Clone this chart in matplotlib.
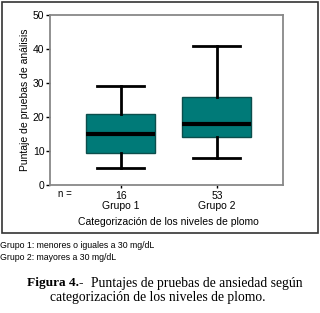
import matplotlib
matplotlib.use("Agg")
import matplotlib.pyplot as plt
from matplotlib.patches import Rectangle

groups = ["Grupo 1", "Grupo 2"]
counts = [16, 53]
whislo = [5, 8]
q1 = [9.5, 14]
med = [15, 18]
q3 = [21, 26]
whishi = [29, 41]
yticks = [0, 10, 20, 30, 40, 50]

fig = plt.figure(figsize=(3.2, 3.13), dpi=100)
fig.patch.set_facecolor("white")
ax = fig.add_axes([50/320, 1-185/313, 233/320, 170/313])

stats = []
for i in range(len(groups)):
    stats.append(dict(label=groups[i], whislo=whislo[i], q1=q1[i], med=med[i],
                      q3=q3[i], whishi=whishi[i], fliers=[]))
bp = ax.bxp(stats, positions=[1, 2], widths=0.72, patch_artist=True,
            showfliers=False,
            boxprops=dict(facecolor="#007A78", edgecolor="#0b4e4c", linewidth=1.0),
            medianprops=dict(color="black", linewidth=3),
            whiskerprops=dict(color="black", linewidth=2),
            capprops=dict(color="black", linewidth=2),
            capwidths=0.49)

ax.set_xlim(0.26, 2.69)
ax.set_ylim(0, 50)
ax.set_yticks(yticks)
ax.set_yticklabels([str(t) for t in yticks], fontsize=7.5, family="Liberation Sans")
ax.set_xticks([1, 2])
ax.set_xticklabels([str(c) for c in counts], fontsize=7.5, family="Liberation Sans")
ax.tick_params(axis="y", length=3, width=1, color="black", pad=1)
ax.tick_params(axis="x", length=2, width=1, color="black", pad=2)
for s in ax.spines.values():
    s.set_color("#888888")
    s.set_linewidth(1.3)
ax.set_ylabel("Puntaje de pruebas de análisis", fontsize=7.5, family="Liberation Sans", labelpad=2)

fig.text(58/320, 1-194/313, "n =", fontsize=7, family="Liberation Sans", va="center", ha="left")
for i, g in enumerate(groups):
    xd = ax.transData.transform((i+1, 0))[0] / fig.dpi / 3.2
    fig.text(xd, 1-206/313, g, fontsize=7.5, family="Liberation Sans", ha="center", va="center")
fig.text(168/320, 1-222/313, "Categorización de los niveles de plomo", fontsize=7.5,
         family="Liberation Sans", ha="center", va="center")

fig.patches.append(Rectangle((1.5/320, 1-233/313), 316/320, 231.5/313, transform=fig.transFigure,
                             fill=False, edgecolor="#333333", linewidth=1.2))

fig.text(0.5/320, 1-246/313, "Grupo 1: menores o iguales a 30 mg/dL", fontsize=6.3,
         family="Liberation Sans", ha="left", va="center")
fig.text(0.5/320, 1-257/313, "Grupo 2: mayores a 30 mg/dL", fontsize=6.3,
         family="Liberation Sans", ha="left", va="center")

fig.text(27/320, 1-283/313, "Figura 4.-", fontsize=9.6, family="Liberation Serif",
         weight="bold", ha="left", va="center")
fig.text(303/320, 1-283/313, "Puntajes de pruebas de ansiedad según", fontsize=9.8,
         family="Liberation Serif", ha="right", va="center")
fig.text(158/320, 1-298/313, "categorización de los niveles de plomo.", fontsize=9.8,
         family="Liberation Serif", ha="center", va="center")

fig.savefig("out.png", dpi=100)
